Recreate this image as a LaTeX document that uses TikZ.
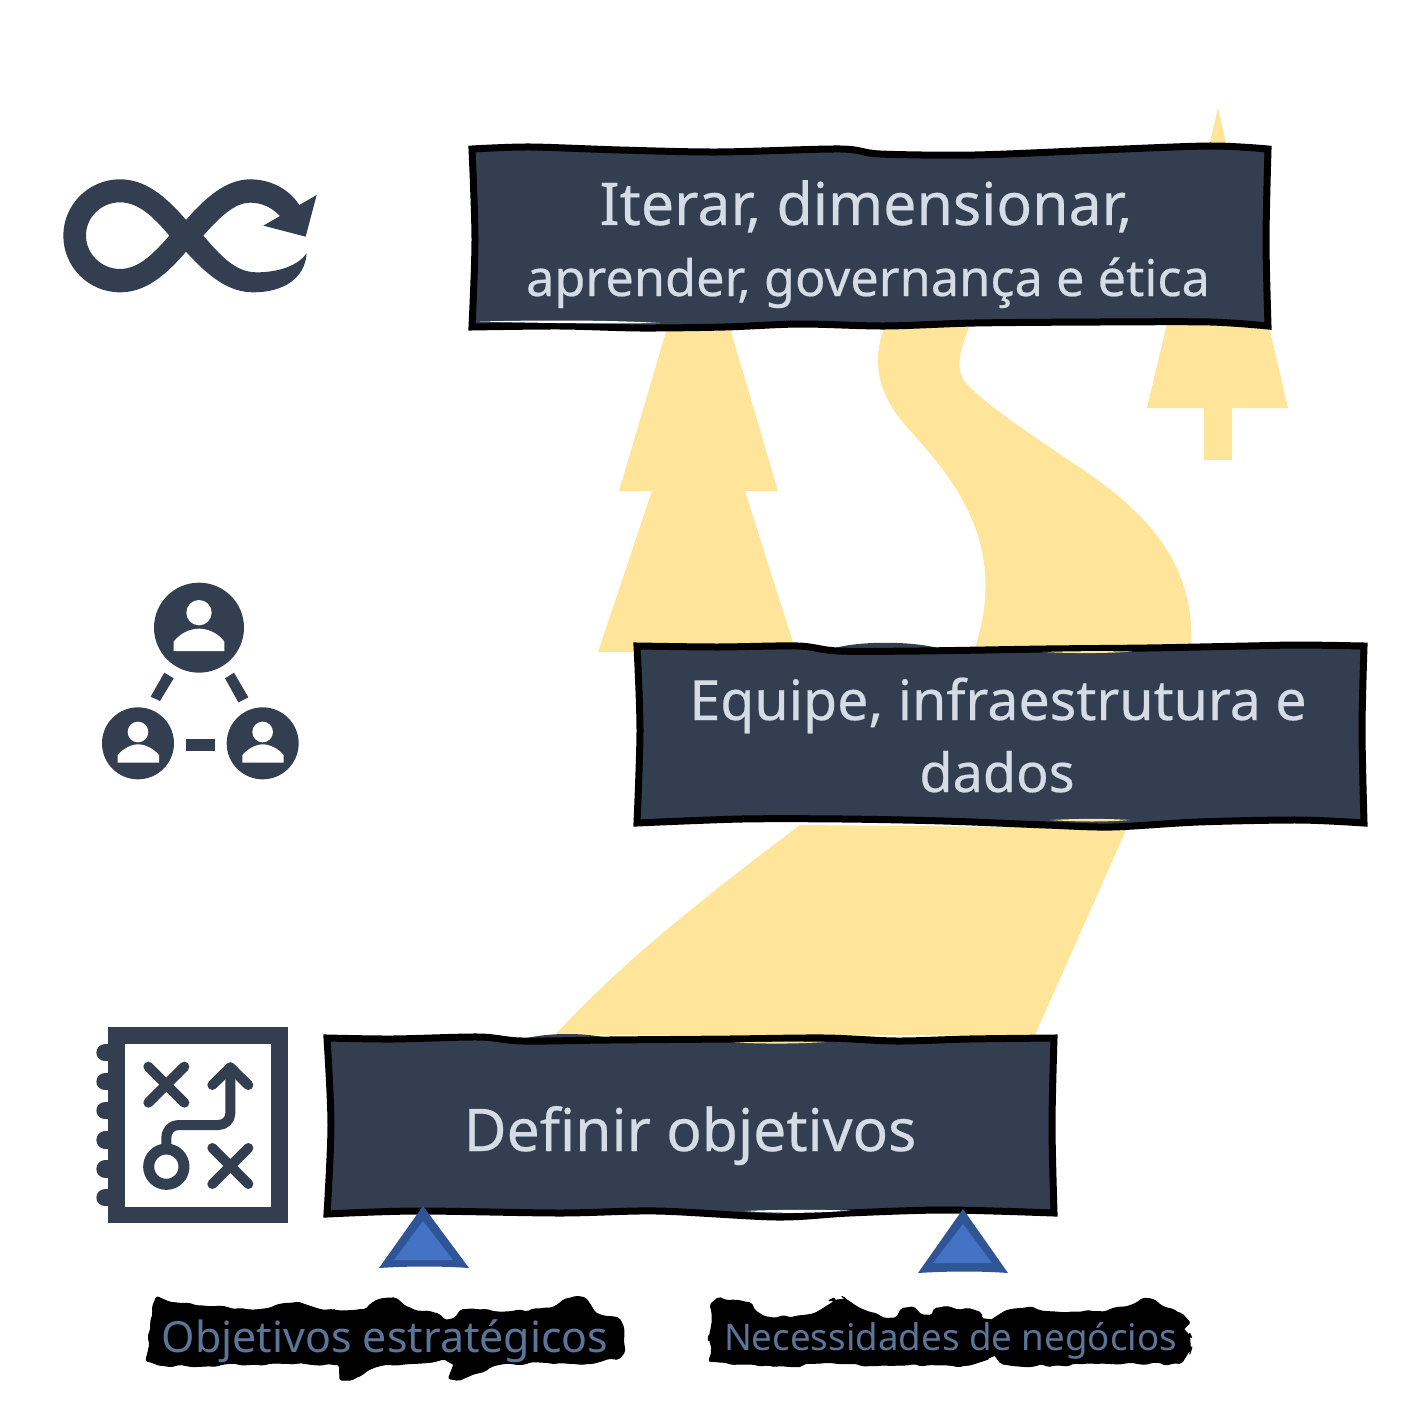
\documentclass[tikz,border=0pt]{standalone}
\usepackage{fontspec}
\usetikzlibrary{decorations.pathmorphing}
\setmainfont{Noto Sans}
\newfontfamily\heavier{Noto Sans}[FakeBold=0.35]
\definecolor{navy}{HTML}{333F50}
\definecolor{road}{HTML}{FFE599}
\definecolor{pale}{HTML}{D6DCE5}
\definecolor{slate}{HTML}{5A7597}
\definecolor{triA}{HTML}{2F5597}
\definecolor{triB}{HTML}{4472C4}
\tikzset{
  sign/.style={fill=navy,draw=black,line width=7pt,line join=miter},
  yellowshape/.style={fill=road,draw=none},
  icon/.style={fill=navy,draw=none},
  iconline/.style={draw=navy,line cap=round,line join=round,fill=none},
  hole/.style={fill=white,draw=none},
  signtext/.style={text=pale,anchor=base,inner sep=0pt},
  labeltext/.style={text=slate,anchor=base,inner sep=0pt},
  blob/.style={fill=black,draw=black,line width=1pt,line join=round,rounded corners=2pt,
    decorate,decoration={random steps,segment length=7pt,amplitude=1.6pt}},
  zoomed/.style={x=0.33333pt,y=-0.33333pt}
}
\pgfmathsetseed{7}
\begin{document}
\begin{tikzpicture}[x=1pt,y=-1pt]
\useasboundingbox (0,0) rectangle (1403,1423);
% road
\fill[yellowshape] (555,1035) .. controls (610,975) and (680,915) .. (800,825) -- (1127,828) -- (1035,1035) -- cycle;
\fill[yellowshape] (885,325) .. controls (870,365) and (880,395) .. (905,425)
  .. controls (950,475) and (1010,540) .. (975,648) -- (1191,648)
  .. controls (1195,575) and (1160,525) .. (1095,478)
  .. controls (1035,437) and (985,405) .. (965,382)
  .. controls (955,368) and (960,350) .. (970,325) -- cycle;
% trees
\fill[yellowshape] (668,325) -- (619,491) -- (652,491) -- (598,652) -- (796,652) -- (745,491) -- (778,491) -- (729,325) -- cycle;
\fill[yellowshape] (1218,108) -- (1147,408) -- (1204,408) -- (1204,460) -- (1232,460) -- (1232,408) -- (1288,408) -- cycle;
% fill bumps above the signs
\fill[navy] (835,648) .. controls (860,641) and (910,641) .. (938,648) -- cycle;
\fill[navy] (520,1040) .. controls (545,1032) and (590,1032) .. (615,1040) -- cycle;
% signs
\draw[sign] plot[smooth] coordinates {(472,149) (530,147) (620,150) (718,152) (840,149) (880,154) (975,155) (1100,150) (1210,146) (1268,149)}
  -- plot[smooth] coordinates {(1268,149) (1266,240) (1268,326)}
  -- plot[smooth] coordinates {(1268,326) (1210,322) (1100,322) (975,323) (885,326) (800,324) (725,327) (640,328) (560,326) (472,327)}
  -- plot[smooth] coordinates {(472,327) (475,240) (472,149)} -- cycle;
\draw[sign] plot[smooth] coordinates {(637,646) (717,647) (798,646) (838,651) (919,651) (1046,649) (1147,648) (1248,646) (1299,645) (1364,646)}
  -- plot[smooth] coordinates {(1364,646) (1362,730) (1364,823)}
  -- plot[smooth] coordinates {(1364,823) (1299,820) (1198,822) (1112,827) (1046,825) (944,821) (843,819) (742,819) (637,823)}
  -- plot[smooth] coordinates {(637,823) (640,730) (637,646)} -- cycle;
\draw[sign] plot[smooth] coordinates {(327,1038) (392,1039) (479,1037) (522,1041) (608,1040) (729,1039) (825,1038) (897,1041) (969,1039) (1054,1038)}
  -- plot[smooth] coordinates {(1054,1038) (1052,1125) (1054,1213)}
  -- plot[smooth] coordinates {(1054,1213) (945,1210) (849,1213) (777,1217) (657,1211) (560,1213) (416,1211) (327,1214)}
  -- plot[smooth] coordinates {(327,1214) (331,1125) (327,1038)} -- cycle;
% slivers between fill and outline
\fill[white] (480,321.5) .. controls (540,320) and (610,320) .. (660,323) .. controls (600,324) and (540,323) .. (480,321.5) -- cycle;
\fill[road] (1042,652) .. controls (1075,651) and (1105,651) .. (1132,651.5) .. controls (1105,653.5) and (1075,653.5) .. (1042,652) -- cycle;
\fill[road] (1050,820) .. controls (1080,822) and (1105,822) .. (1130,820) .. controls (1105,818.5) and (1080,818.5) .. (1050,820) -- cycle;
\fill[road] (735,1042.5) .. controls (765,1041.5) and (795,1041.5) .. (825,1042) .. controls (795,1044) and (765,1044) .. (735,1042.5) -- cycle;
\fill[white] (745,1211) .. controls (775,1209.5) and (815,1209.5) .. (850,1210.5) .. controls (815,1213.5) and (775,1213.5) .. (745,1211) -- cycle;
% sign texts
\node[signtext,font=\heavier\fontsize{59}{59}\selectfont] (t1a) at (866,225) {Iterar, dimensionar,};
\node[signtext,font=\heavier\fontsize{50.5}{50}\selectfont] (t1b) at (868,296) {aprender, governança e ética};
\node[signtext,font=\heavier\fontsize{55.5}{55}\selectfont] (t2a) at (998,720) {Equipe, infraestrutura e};
\node[signtext,font=\heavier\fontsize{54}{55}\selectfont] (t2b) at (997,792) {dados};
\node[signtext,font=\heavier\fontsize{58.8}{58}\selectfont] (t3) at (690,1151) {Definir objetivos};
% triangles
\fill[triA] (423,1206) -- (469,1268) .. controls (440,1266) and (410,1266) .. (379,1268) -- cycle;
\fill[triB] (423,1221) -- (453,1260) -- (394,1260) -- cycle;
\fill[triA] (963,1209) -- (1008,1273) .. controls (980,1271) and (950,1271) .. (918,1273) -- cycle;
\fill[triB] (963,1224) -- (992,1263) -- (933,1263) -- cycle;
% blobs
\begin{scope}[shift={(130,1200)},zoomed]
\draw[blob] plot[smooth cycle,tension=0.25] coordinates {(70,315)(150,310)(240,320)(370,330)(480,310)(580,330)(680,330)(770,295)(830,320)(900,335)(950,360)(1000,330)(1140,335)(1240,325)(1345,290)(1400,340)(1470,360)(1480,460)(1380,490)(1130,490)(1060,515)(980,540)(965,490)(860,490)(740,500)(660,540)(620,495)(470,490)(75,490)};
\end{scope}
\begin{scope}[shift={(690,1200)},zoomed]
\draw[blob] plot[smooth cycle,tension=0.25] coordinates {(65,310)(160,305)(230,350)(350,345)(400,325)(430,295)(465,295)(510,325)(590,355)(640,325)(700,345)(740,325)(850,330)(880,360)(905,362)(925,345)(1000,325)(1080,335)(1220,335)(1310,320)(1365,295)(1420,320)(1480,345)(1480,395)(1505,410)(1500,460)(1480,490)(1220,490)(1100,495)(960,495)(905,460)(880,480)(830,495)(630,495)(370,490)(340,500)(80,485)(65,450)(55,410)(65,380)};
\end{scope}
\node[labeltext,font=\fontsize{42.9}{42}\selectfont] (l1) at (385,1352) {Objetivos estratégicos};
\node[labeltext,font=\fontsize{36.7}{36}\selectfont] (l2) at (950.5,1350) {Necessidades de negócios};
% infinity icon
\begin{scope}[shift={(40,150)},zoomed]
\fill[icon,even odd rule] (438,210) .. controls (370,130) and (310,88) .. (240,88) .. controls (145,88) and (70,165) .. (70,257) .. controls (70,350) and (145,427) .. (240,427) .. controls (310,427) and (370,385) .. (438,305) .. controls (510,385) and (570,427) .. (640,427) .. controls (730,427) and (795,385) .. (800,310) .. controls (775,345) and (720,367) .. (650,367) .. controls (585,367) and (540,315) .. (490,257) .. controls (540,200) and (585,158) .. (630,158) .. controls (665,158) and (695,172) .. (720,198) -- (670,227) -- (797,260) -- (830,135) -- (778,165) .. controls (745,115) and (690,88) .. (630,88) .. controls (555,88) and (490,150) .. (438,210) -- cycle
 (388,257) .. controls (340,200) and (295,157) .. (240,157) .. controls (185,157) and (138,200) .. (138,257) .. controls (138,312) and (185,357) .. (240,357) .. controls (295,357) and (340,312) .. (388,257) -- cycle;
\end{scope}
% people icon
\begin{scope}[shift={(80,570)},zoomed]
\fill[icon] (357,173) circle[radius=135];
\fill[hole] (357,128) circle[radius=38];
\fill[hole] (281,243) -- (281,215) .. controls (300,190) and (330,176) .. (357,176) .. controls (385,176) and (415,190) .. (433,215) -- (433,243) -- cycle;
\fill[icon] (174,520) circle[radius=108];
\fill[hole] (174,486) circle[radius=31];
\fill[hole] (113,578) -- (113,555) .. controls (130,535) and (155,523) .. (174,523) .. controls (195,523) and (220,535) .. (237,555) -- (237,578) -- cycle;
\fill[icon] (548,520) circle[radius=108];
\fill[hole] (548,486) circle[radius=31];
\fill[hole] (487,578) -- (487,555) .. controls (504,535) and (529,523) .. (548,523) .. controls (569,523) and (594,535) .. (611,555) -- (611,578) -- cycle;
\fill[icon] (253,308) -- (281,325) -- (240,393) -- (212,380) -- cycle;
\fill[icon] (462,308) -- (435,325) -- (475,397) -- (505,382) -- cycle;
\fill[icon] (318,508) rectangle (406,542);
\end{scope}
% map icon
\begin{scope}[shift={(80,1010)},zoomed]
\foreach \ty in {128,215,302,390,477,563}{
  \draw[iconline,line width=17.3pt] (75,\ty) -- (100,\ty);
}
\fill[icon] (85,50) rectangle (625,640);
\fill[hole] (136,102) rectangle (573,590);
\draw[iconline,line width=10pt] (205,170) -- (313,278);
\draw[iconline,line width=10pt] (313,170) -- (205,278);
\draw[iconline,line width=10pt] (397,414) -- (505,522);
\draw[iconline,line width=10pt] (505,414) -- (397,522);
\draw[iconline,line width=11pt] (259,470) circle[radius=53];
\draw[iconline,line width=10pt] (259,405) -- (259,385) .. controls (259,360) and (275,345) .. (295,345) -- (415,345) .. controls (435,345) and (451,330) .. (451,310) -- (451,172);
\draw[iconline,line width=10pt] (397,225) -- (451,172) -- (505,225);
\end{scope}
\end{tikzpicture}
\end{document}
